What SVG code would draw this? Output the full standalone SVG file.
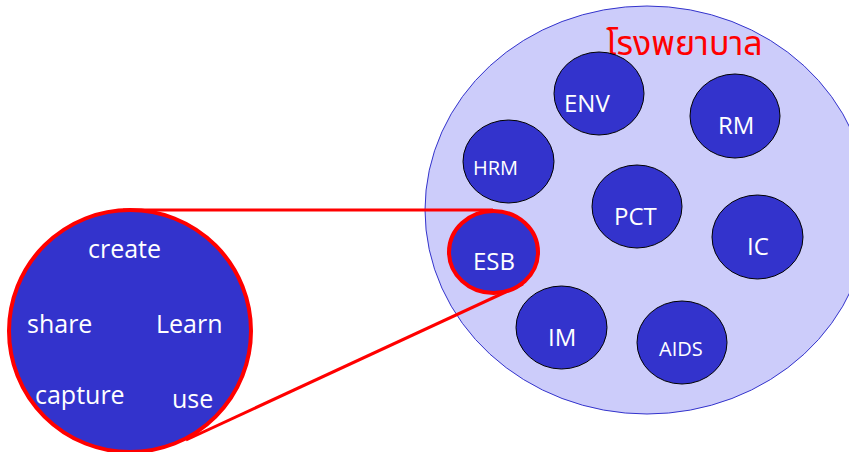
<svg xmlns="http://www.w3.org/2000/svg" width="849" height="452" viewBox="0 0 849 452">
<style>
.node{fill:#3333cc;stroke:#000;stroke-width:1}
.lbl{fill:#fff;font-family:"Open Sans","Noto Sans",sans-serif;font-size:24px}
.sm{font-size:20px}
.lg{font-size:25px}
.red{fill:none;stroke:#ff0000}
</style>
<rect width="849" height="452" fill="#fff"/>
<g id="hospital">
<ellipse cx="647" cy="210" rx="222" ry="204" fill="#ccccfa" stroke="#3333cc" stroke-width="1"/>
<text x="684.5" y="55" text-anchor="middle" fill="#ff0000" font-family="'Noto Sans Thai','Noto Sans','Open Sans',sans-serif" font-size="34">โรงพยาบาล</text>
</g>
<g id="ENV"><ellipse class="node" cx="599" cy="93.5" rx="45" ry="41.5"/><text class="lbl" x="564" y="112">ENV</text></g>
<g id="RM"><ellipse class="node" cx="735" cy="116" rx="45" ry="42"/><text class="lbl" x="718" y="134">RM</text></g>
<g id="HRM"><ellipse class="node" cx="508.5" cy="161.5" rx="45.5" ry="41.5"/><text class="lbl sm" x="473" y="175">HRM</text></g>
<g id="PCT"><ellipse class="node" cx="637" cy="206.5" rx="45" ry="41.5"/><text class="lbl" x="614" y="225">PCT</text></g>
<g id="IC"><ellipse class="node" cx="757.5" cy="237" rx="45.5" ry="42"/><text class="lbl" x="747" y="255">IC</text></g>
<g id="IM"><ellipse class="node" cx="561.5" cy="327.5" rx="45.5" ry="41.5"/><text class="lbl" x="548" y="346">IM</text></g>
<g id="AIDS"><ellipse class="node" cx="682" cy="342.5" rx="45" ry="41.5"/><text class="lbl sm" x="659" y="356">AIDS</text></g>
<g id="connectors">
<line class="red" x1="123" y1="210" x2="493" y2="210" stroke-width="3"/>
<line class="red" x1="523" y1="284" x2="186" y2="440" stroke-width="3"/>
</g>
<g id="ESB"><ellipse cx="493.5" cy="252" rx="44.5" ry="41" fill="#3333cc" stroke="#ff0000" stroke-width="4"/><text class="lbl" x="473" y="270">ESB</text></g>
<g id="zoom">
<circle cx="130" cy="331" r="121" fill="#3333cc" stroke="#ff0000" stroke-width="4"/>
<text class="lbl lg" x="88" y="258">create</text>
<text class="lbl lg" x="27" y="333">share</text>
<text class="lbl lg" x="156" y="333">Learn</text>
<text class="lbl lg" x="35" y="404">capture</text>
<text class="lbl lg" x="172" y="408">use</text>
</g>
</svg>
